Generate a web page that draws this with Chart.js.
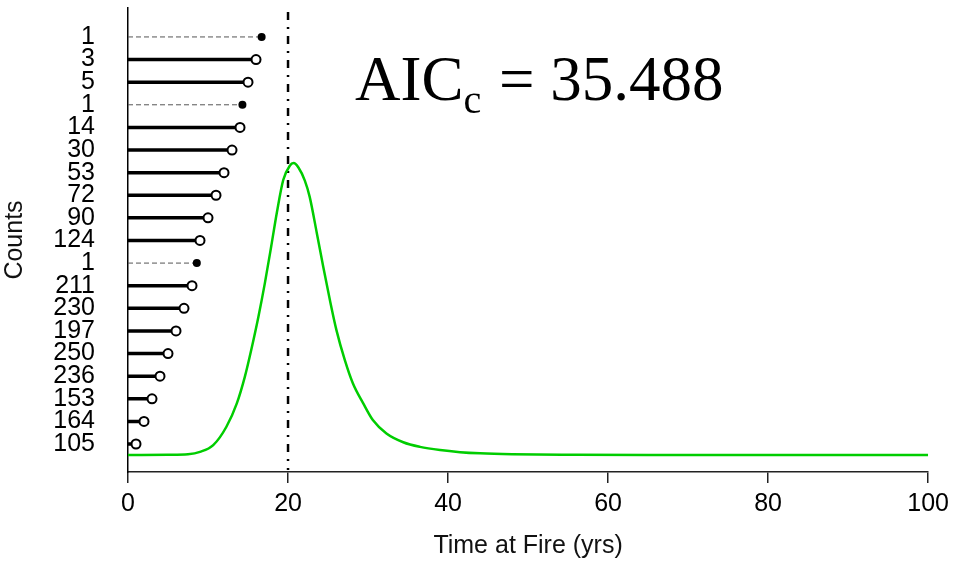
<!DOCTYPE html>
<html>
<head>
<meta charset="utf-8">
<script src="https://cdn.jsdelivr.net/npm/chart.js@4.4.1/dist/chart.umd.min.js"></script>
<style>
  body { margin: 0; background: #fff; }
  #wrap { width: 955px; height: 562px; }
</style>
</head>
<body>
<div id="wrap"><canvas id="fire-chart" width="955" height="562"></canvas></div>
<script>
// rows from top to bottom
var counts = [1, 3, 5, 1, 14, 30, 53, 72, 90, 124, 1, 211, 230, 197, 250, 236, 153, 164, 105]
var endTimes = [16.7, 16.0, 15.0, 14.3, 14.0, 13.0, 12.0, 11.0, 10.0, 9.0, 8.6, 8.0, 7.0, 6.0, 5.0, 4.0, 3.0, 2.0, 1.0]
var singleRow = [true, false, false, true, false, false, false, false, false, false, true, false, false, false, false, false, false, false, false]

// fitted curve (relative density, peak = 1)
var densX = [0, 5, 7.5, 9, 10.65, 12.3, 13.6, 14.6, 15.4, 16.3, 17.1, 17.9, 18.6, 19.4, 20.2, 20.7, 21.3, 22.1, 22.7, 23.6, 24.4, 25.2, 26.05, 27.1, 28.1, 29.4, 30.6, 32.3, 34.4, 36.5, 39, 41.5, 44, 48, 56, 65, 100]
var densY = [0, 0.001, 0.003, 0.011, 0.034, 0.097, 0.177, 0.268, 0.36, 0.474, 0.588, 0.715, 0.83, 0.942, 0.99, 1.0, 0.985, 0.94, 0.885, 0.76, 0.645, 0.535, 0.428, 0.325, 0.246, 0.177, 0.12, 0.074, 0.044, 0.028, 0.017, 0.01, 0.006, 0.003, 0.001, 0, 0]

var xTicks = [0, 20, 40, 60, 80, 100]
var fireTime = 20
var aicValue = '35.488'

var FONT = "'Liberation Sans', Arial, sans-serif"
var nRows = counts.length

var datasets = []

datasets.push({
  data: densX.map(function (x, i) { return { x: x, y: densY[i] } }),
  yAxisID: 'yd',
  borderColor: '#00cd00',
  borderWidth: 2.5,
  pointRadius: 0,
  cubicInterpolationMode: 'monotone'
})

datasets.push({
  data: [{ x: fireTime, y: 20.1 }, { x: fireTime, y: -0.15 }],
  yAxisID: 'y',
  borderColor: '#000',
  borderWidth: 2.5,
  borderDash: [8, 7, 2, 7],
  pointRadius: 0
})

counts.forEach(function (c, i) {
  var row = nRows - i
  var single = singleRow[i]
  datasets.push({
    data: [{ x: 0, y: row }, { x: endTimes[i], y: row }],
    yAxisID: 'y',
    borderColor: single ? '#555' : '#000',
    borderWidth: single ? 1 : 3.5,
    borderDash: single ? [5, 3] : [],
    pointRadius: [0, single ? 4 : 4.5],
    pointBackgroundColor: single ? '#000' : '#fff',
    pointBorderColor: '#000',
    pointBorderWidth: single ? 0 : 2
  })
})

var aicPlugin = {
  id: 'aicLabel',
  afterDraw: function (chart) {
    var ctx = chart.ctx
    ctx.save()
    ctx.fillStyle = '#000'
    ctx.textBaseline = 'alphabetic'
    ctx.textAlign = 'left'
    var x = 355
    ctx.font = "63px 'Liberation Serif', 'Times New Roman', serif"
    ctx.fillText('AIC', x, 100)
    x += ctx.measureText('AIC').width
    ctx.font = "40px 'Liberation Serif', 'Times New Roman', serif"
    ctx.fillText('c', x, 113)
    x += ctx.measureText('c').width
    ctx.font = "63px 'Liberation Serif', 'Times New Roman', serif"
    ctx.fillText(' = ' + aicValue, x + 2, 100)
    ctx.restore()
  }
}

var ctx = document.getElementById('fire-chart').getContext('2d')
var chart = new Chart(ctx, {
  type: 'line',
  data: { datasets: datasets },
  plugins: [aicPlugin],
  options: {
    responsive: false,
    animation: false,
    layout: { padding: { top: 8, right: 26, bottom: 0, left: 0 } },
    plugins: { legend: { display: false }, tooltip: { enabled: false } },
    scales: {
      x: {
        type: 'linear',
        min: 0,
        max: 100,
        afterBuildTicks: function (scale) {
          scale.ticks = xTicks.map(function (v) { return { value: v } })
        },
        afterFit: function (scale) { scale.height = 90 },
        ticks: { font: { family: FONT, size: 25 }, color: '#000', padding: 6, maxRotation: 0 },
        grid: { drawOnChartArea: false, drawTicks: true, tickLength: 11, color: '#222', lineWidth: 1.5 },
        border: { display: true, color: '#222', width: 1.5 },
        title: { display: true, text: 'Time at Fire (yrs)', font: { family: FONT, size: 25 }, color: '#111', padding: { top: 0, bottom: 1 } }
      },
      y: {
        type: 'linear',
        min: -0.238,
        max: 20.28,
        afterBuildTicks: function (scale) {
          scale.ticks = counts.map(function (c, i) { return { value: nRows - i } })
        },
        afterFit: function (scale) {
          scale.width = 128
          scale.paddingTop = 0
          scale.paddingBottom = 0
        },
        ticks: {
          autoSkip: false,
          font: { family: FONT, size: 25 },
          color: '#000',
          padding: 33,
          callback: function (value) { return String(counts[nRows - value]) }
        },
        grid: { display: false, drawTicks: false },
        border: { display: true, color: '#000', width: 1.5 },
        title: { display: true, text: 'Counts', font: { family: FONT, size: 25 }, color: '#111', padding: 0 }
      },
      yd: {
        type: 'linear',
        display: false,
        min: -0.058,
        max: 1.531
      }
    }
  }
})
</script>
</body>
</html>
